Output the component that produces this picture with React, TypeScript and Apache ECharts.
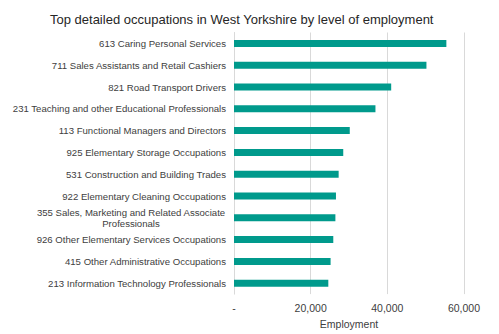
import React, { useEffect, useRef } from "react";
import * as echarts from "echarts";

const categories = [
  "613 Caring Personal Services",
  "711 Sales Assistants and Retail Cashiers",
  "821 Road Transport Drivers",
  "231 Teaching and other Educational Professionals",
  "113 Functional Managers and Directors",
  "925 Elementary Storage Occupations",
  "531 Construction and Building Trades",
  "922 Elementary Cleaning Occupations",
  "355 Sales, Marketing and Related Associate\nProfessionals",
  "926 Other Elementary Services Occupations",
  "415 Other Administrative Occupations",
  "213 Information Technology Professionals",
];

const employment = [55400, 50200, 41000, 36900, 30200, 28500, 27300, 26600, 26450, 25900, 25200, 24600];

const xTicks = [0, 20000, 40000, 60000];

const FONT = "'Liberation Sans', Arial, sans-serif";
const LABEL_SIZE = 9.6;

function measure(text: string): number {
  const c = document.createElement("canvas").getContext("2d");
  if (!c) return text.length * 4.5;
  c.font = `${LABEL_SIZE}px ${FONT}`;
  return Math.ceil(c.measureText(text).width) + 1;
}

export default function App() {
  const ref = useRef<HTMLDivElement>(null);
  useEffect(() => {
    if (!ref.current) return;
    const chart = echarts.init(ref.current, null, { renderer: "svg" });
    chart.setOption({
      animation: false,
      textStyle: { fontFamily: FONT },
      title: {
        text: "Top detailed occupations in West Yorkshire by level of employment",
        left: 45,
        top: 8,
        textStyle: { fontFamily: FONT, fontSize: 13, fontWeight: "normal", color: "#262626" },
      },
      grid: { left: 234, right: 35, top: 32.5, bottom: 39, containLabel: false },
      xAxis: {
        type: "value",
        min: xTicks[0],
        max: xTicks[xTicks.length - 1],
        interval: 20000,
        name: "Employment",
        nameLocation: "middle",
        nameGap: 16,
        nameTextStyle: { fontFamily: FONT, fontSize: 10.5, color: "#404040" },
        axisLine: { show: false },
        axisTick: { show: false },
        splitLine: { show: true, lineStyle: { color: "#d9d9d9", width: 1 } },
        axisLabel: {
          fontFamily: FONT,
          fontSize: 10.5,
          color: "#404040",
          margin: 8,
          formatter: (v: number) => (v === 0 ? "-" : v.toLocaleString("en-US")),
        },
      },
      yAxis: {
        type: "category",
        data: categories,
        inverse: true,
        axisLine: { show: true, lineStyle: { color: "#d9d9d9" } },
        axisTick: { show: false },
        axisLabel: {
          fontFamily: FONT,
          fontSize: LABEL_SIZE,
          color: "#404040",
          margin: 8,
          lineHeight: 11,
          formatter: (v: string) => {
            if (v.indexOf("\n") >= 0) {
              return v
                .split("\n")
                .map((s) => "{c|" + s + "}")
                .join("\n");
            }
            return v;
          },
          rich: {
            c: {
              align: "center",
              width: measure("355 Sales, Marketing and Related Associate"),
              fontFamily: FONT,
              fontSize: LABEL_SIZE,
              color: "#404040",
              lineHeight: 11,
            },
          },
        },
      },
      series: [
        {
          type: "bar",
          data: employment,
          barWidth: 7,
          itemStyle: { color: "#009a8c" },
        },
      ],
    });
    return () => chart.dispose();
  }, []);
  return <div ref={ref} style={{ width: 499, height: 334, position: "absolute", left: 0, top: 0 }} />;
}
